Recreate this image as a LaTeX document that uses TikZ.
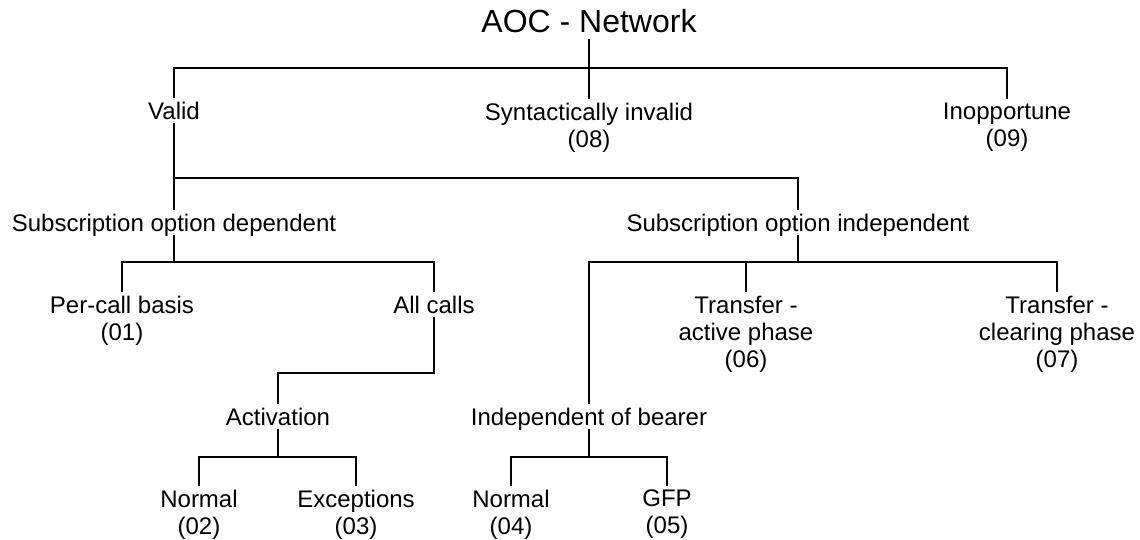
\documentclass[tikz,border=0pt]{standalone}
\usepackage{fontspec}
\setmainfont{Liberation Sans}
\begin{document}
\begin{tikzpicture}[x=1pt,y=-1pt,
  lbl/.style={font=\fontsize{24}{27}\selectfont, inner xsep=0pt, inner ysep=4.5pt, align=center, anchor=north},
  mid/.style={lbl, text depth=0pt},
  ttl/.style={font=\fontsize{32}{36}\selectfont, inner xsep=0pt, inner ysep=7pt, text depth=0pt, anchor=south},
  conn/.style={line width=1.9pt, line cap=rect, line join=miter}]
\useasboundingbox (0,0) rectangle (1140,539);
% bar levels
\coordinate (b1) at (0,68);
\coordinate (b2) at (0,178);
\coordinate (b3) at (0,262);
\coordinate (b4) at (0,373);
\coordinate (b5) at (0,457);
% nodes
\node[ttl] (title) at (589,40) {AOC - Network};
\node[mid] (valid) at (174,97) {Valid};
\node[lbl] (synt) at (589,98) {Syntactically invalid\\(08)};
\node[lbl] (inop) at (1007,98) {Inopportune\\(09)};
\node[mid] (subdep) at (174,209) {Subscription option dependent};
\node[mid] (subind) at (798,209) {Subscription option independent};
\node[lbl] (percall) at (122,291) {Per-call basis\\(01)};
\node[mid] (allcalls) at (434,291) {All calls};
\node[lbl] (tra) at (746,291) {Transfer -\\active phase\\(06)};
\node[lbl] (trc) at (1057,291) {Transfer -\\clearing phase\\(07)};
\node[mid] (activ) at (278,403) {Activation};
\node[mid] (indb) at (589,403) {Independent of bearer};
\node[lbl] (n02) at (199,485) {Normal\\(02)};
\node[lbl] (exc) at (356,485) {Exceptions\\(03)};
\node[lbl] (n04) at (511,485) {Normal\\(04)};
\node[lbl] (gfp) at (667,485) {GFP\\(05)};
% connectors
\draw[conn] (title.south) -- (synt.north);
\draw[conn] (valid.north) |- (inop.north |- b1) -- (inop.north);
\draw[conn] (valid.south) -- (subdep.north);
\draw[conn] (valid.south |- b2) -| (subind.north);
\draw[conn] (subdep.south) -- (subdep.south |- b3);
\draw[conn] (percall.north) |- (allcalls.north |- b3) -- (allcalls.north);
\draw[conn] (subind.south) -- (subind.south |- b3);
\draw[conn] (indb.north) |- (trc.north |- b3) -- (trc.north);
\draw[conn] (tra.north) -- (tra.north |- b3);
\draw[conn] (allcalls.south) |- (activ.north |- b4) -- (activ.north);
\draw[conn] (activ.south) -- (activ.south |- b5);
\draw[conn] (n02.north) |- (exc.north |- b5) -- (exc.north);
\draw[conn] (indb.south) -- (indb.south |- b5);
\draw[conn] (n04.north) |- (gfp.north |- b5) -- (gfp.north);
\end{tikzpicture}
\end{document}
